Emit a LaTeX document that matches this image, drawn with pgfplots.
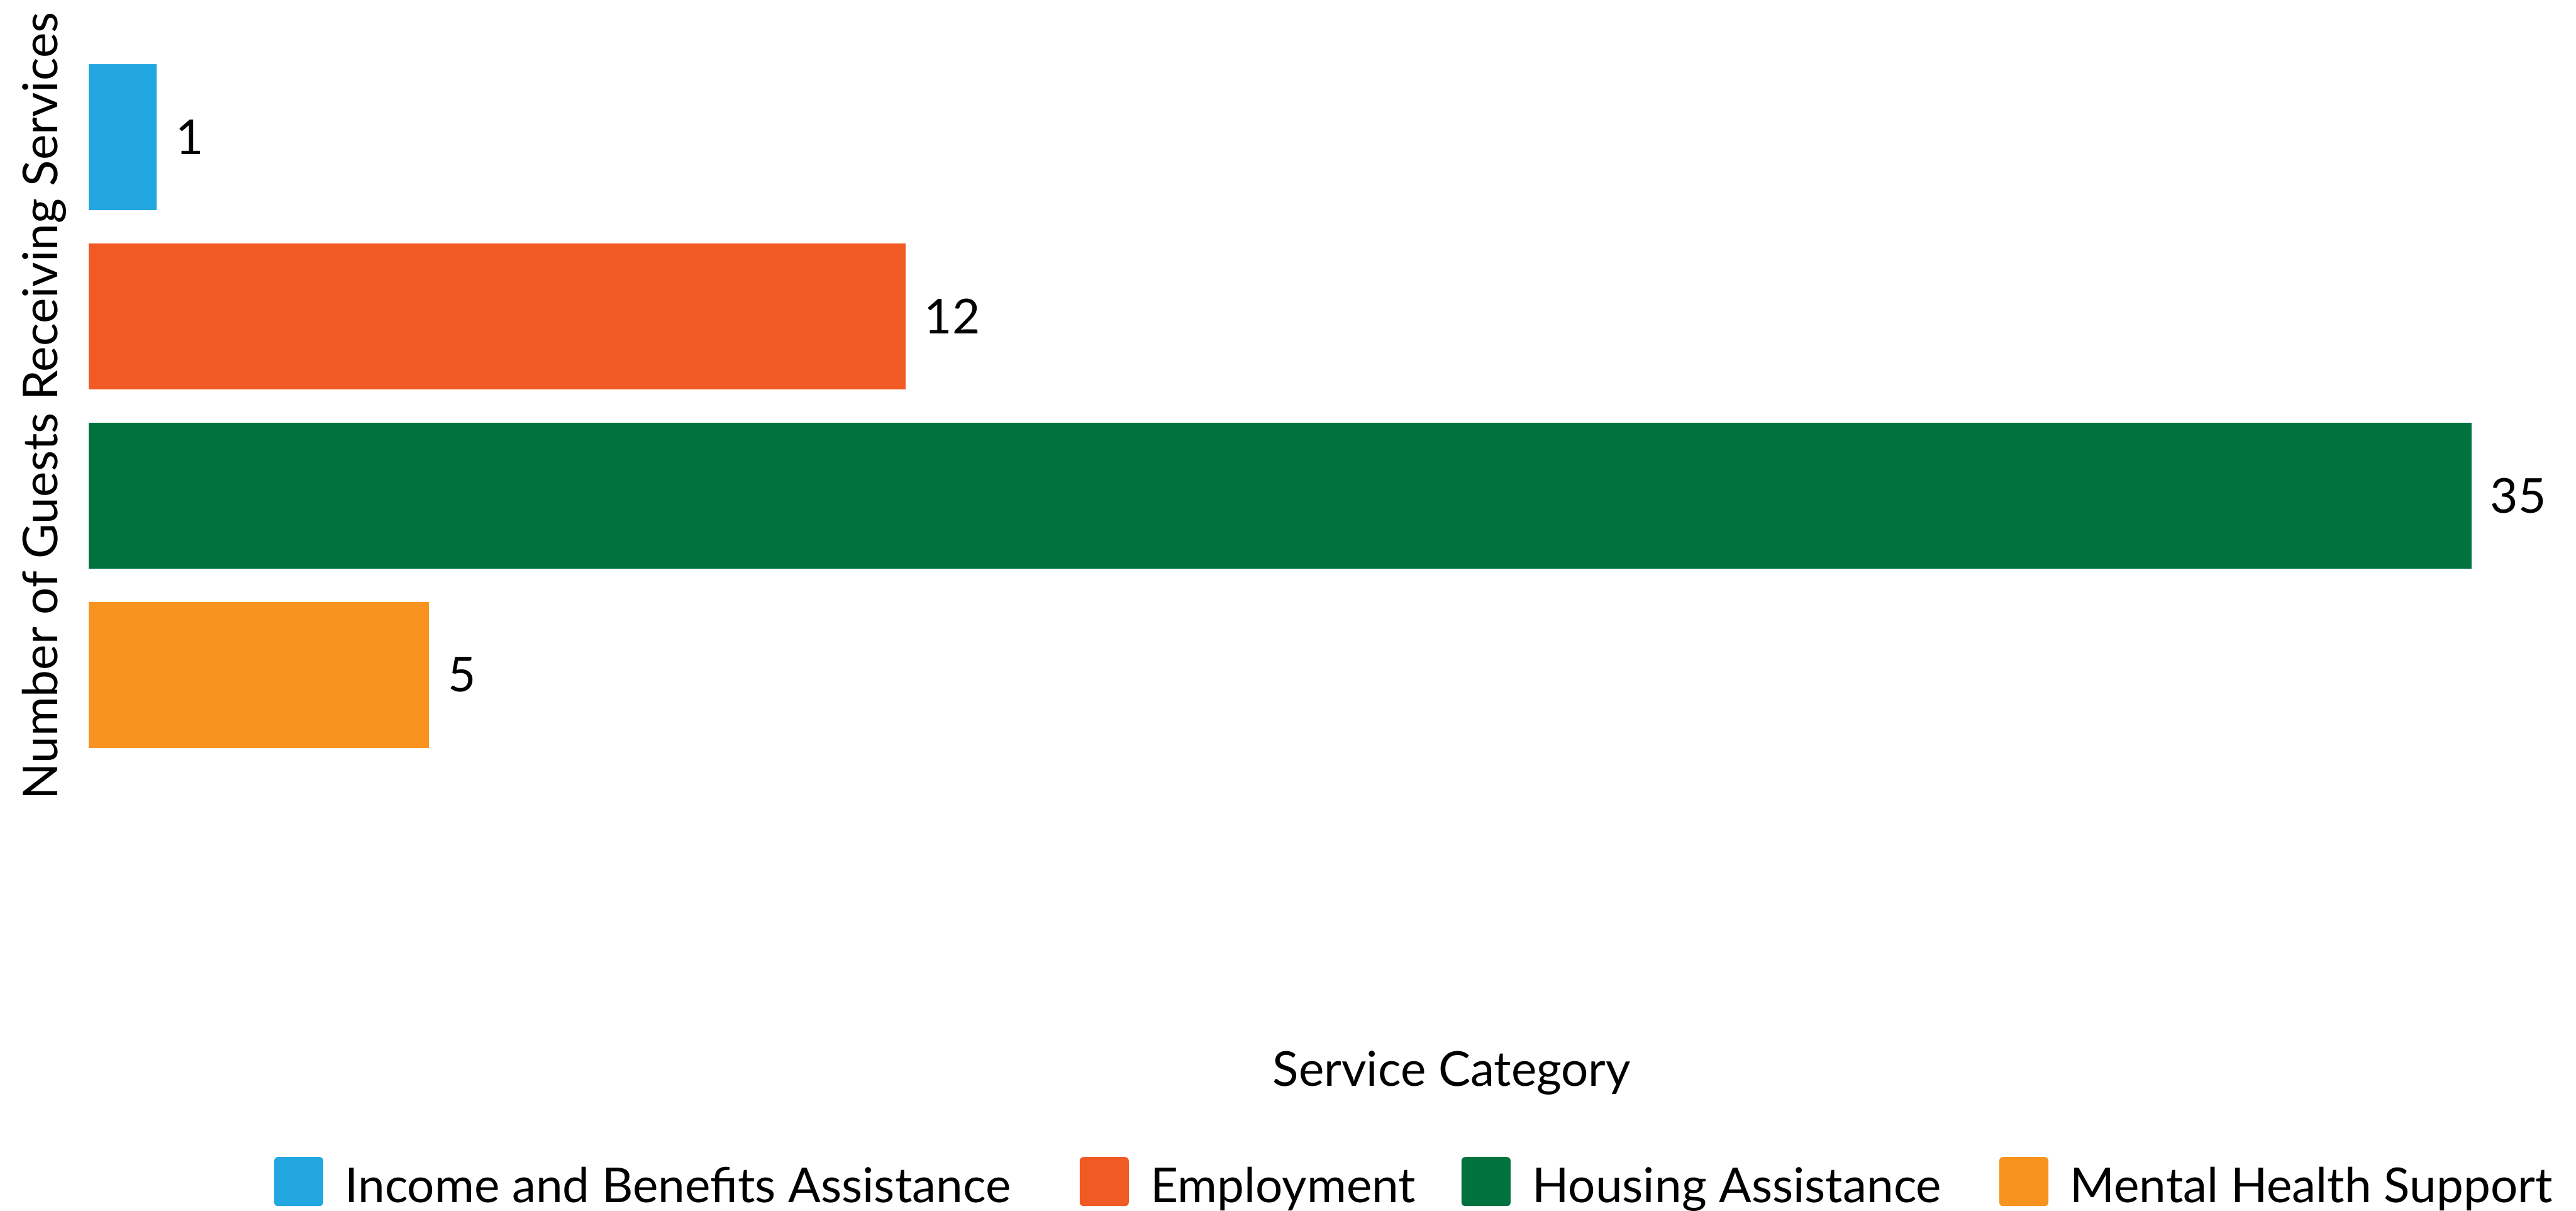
\documentclass[border=0pt]{standalone}
\usepackage{fontspec}
\setmainfont{Lato}
\usepackage{pgfplots}
\pgfplotsset{compat=1.18}
\definecolor{cIncome}{RGB}{35,167,224}
\definecolor{cEmploy}{RGB}{241,90,36}
\definecolor{cHousing}{RGB}{0,114,62}
\definecolor{cMental}{RGB}{247,147,30}
\begin{document}
\fontsize{7.75pt}{9.3pt}\selectfont
\begin{tikzpicture}
\useasboundingbox (0,0) rectangle (414.9pt,194.9pt);
\begin{axis}[
  at={(14.3pt,71.8pt)}, anchor=south west,
  width=383.8pt, height=115.4pt, scale only axis,
  xmin=0, xmax=35, ymin=-0.5, ymax=3.5, y dir=reverse,
  axis line style={draw=none},
  xtick=\empty, ytick=\empty,
  clip=false,
  xbar, bar width=23.5pt, bar shift=0pt,
  nodes near coords,
  /pgf/number format/assume math mode=true,
  nodes near coords style={anchor=west, inner sep=0pt, xshift=2.8pt, text=black},
  xlabel={Service Category},
  ylabel={Number of Guests Receiving Services},
  every axis x label/.style={at={(axis description cs:0.5720,-0.4489)}, anchor=base},
  every axis y label/.style={at={(axis description cs:-0.0130,0.5)}, rotate=90, anchor=base},
  legend columns=4,
  legend cell align=left,
  legend image code/.code={\fill[#1, rounded corners=0.6pt] (0pt,-3.0pt) rectangle (7.9pt,4.9pt);},
  legend style={at={(axis description cs:0.0778,-0.5845)}, anchor=west,
    draw=none, fill=none, inner sep=0pt, outer sep=0pt,
    nodes={inner sep=0pt, text height=6pt, text depth=1.2pt},
    /tikz/every odd column/.style={column sep=3.5pt},
    /tikz/column 2/.style={column sep=11.1pt},
    /tikz/column 4/.style={column sep=7.4pt},
    /tikz/column 6/.style={column sep=9.3pt}},
]
\addplot[fill=cIncome, draw=none] coordinates {(1,0)};
\addlegendentry{Income and Benefits Assistance}
\addplot[fill=cEmploy, draw=none] coordinates {(12,1)};
\addlegendentry{Employment}
\addplot[fill=cHousing, draw=none] coordinates {(35,2)};
\addlegendentry{Housing Assistance}
\addplot[fill=cMental, draw=none] coordinates {(5,3)};
\addlegendentry{Mental Health Support}
\end{axis}
\end{tikzpicture}
\end{document}
